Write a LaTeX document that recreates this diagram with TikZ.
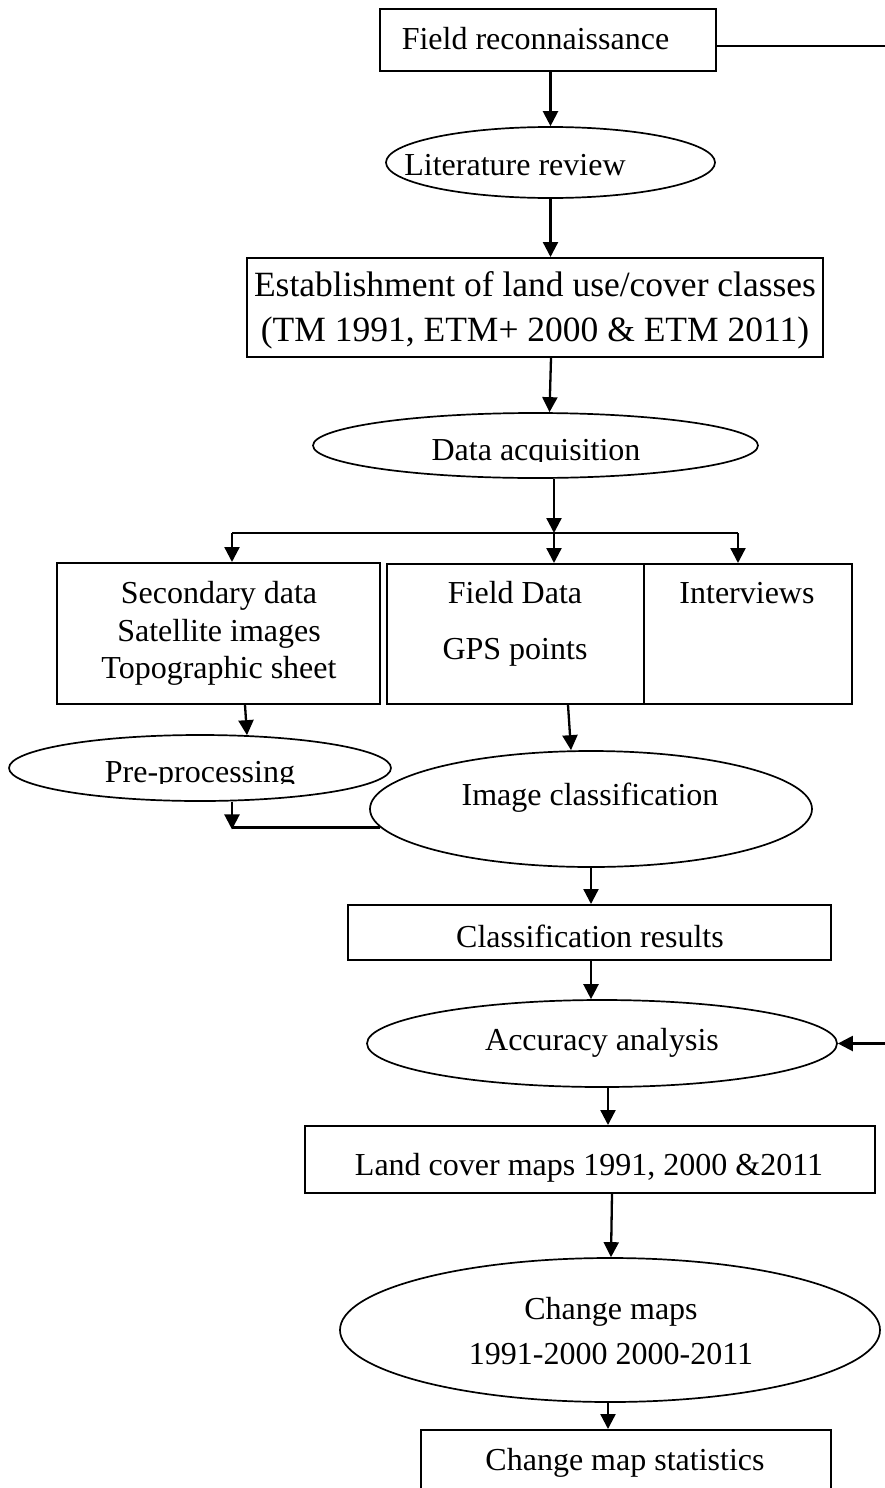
\documentclass[tikz,border=0pt]{standalone}
\usepackage{fontspec}
\setmainfont{Liberation Serif}
\usetikzlibrary{shapes.geometric,arrows.meta,calc}
\begin{document}
\begin{tikzpicture}[x=1pt,y=-1pt,
  box/.style={draw,line width=2pt,rectangle,inner sep=0pt},
  oval/.style={draw,line width=1.7pt,ellipse,inner sep=0pt},
  lbl/.style={inner sep=0pt,anchor=base,font=\fontsize{32}{38}\selectfont},
  biglbl/.style={lbl,font=\fontsize{35.5}{42}\selectfont},
  conn/.style={line width=2.3pt},
  arr/.style={conn,-{Triangle[length=15pt,width=15pt]}}]
\useasboundingbox (0,0) rectangle (885,1488);
\fill[white] (0,0) rectangle (885,1488);

% shapes
\node[box,minimum width=336pt,minimum height=62pt] (fr) at (548,40) {};
\node[oval,minimum width=329pt,minimum height=71pt] (lit) at (550.5,162.5) {};
\node[box,minimum width=576pt,minimum height=99pt] (est) at (535,307.5) {};
\node[oval,minimum width=445pt,minimum height=65pt] (da) at (535.5,445.5) {};
\node[box,minimum width=323pt,minimum height=141pt] (sec) at (218.5,633.5) {};
\node[box,minimum width=257pt,minimum height=140pt] (fd) at (515.5,634) {};
\node[box,minimum width=208pt,minimum height=140pt] (iv) at (748,634) {};
\node[oval,minimum width=382pt,minimum height=66pt] (pre) at (200,768) {};
\node[oval,minimum width=442pt,minimum height=116pt] (ic) at (591,809) {};
\node[box,minimum width=483pt,minimum height=55pt] (cr) at (589.5,932.5) {};
\node[oval,minimum width=470pt,minimum height=87pt] (aa) at (602,1043.5) {};
\node[box,minimum width=570pt,minimum height=67pt] (lc) at (590,1159.5) {};
\node[oval,minimum width=540pt,minimum height=144pt] (cm) at (610,1330) {};
\node[box,minimum width=410pt,minimum height=100pt] (cs) at (626,1480) {};

% texts
\node[lbl] (frt) at (535.5,50) {Field reconnaissance};
\node[lbl] (litt) at (515,175) {Literature review};
\node[biglbl] (estt1) at (535,296) {Establishment of land use/cover classes};
\node[biglbl] (estt2) at (535,341) {(TM 1991, ETM+ 2000 \& ETM 2011)};
\begin{scope}
  \clip (300,420) rectangle (780,461.5);
  \node[lbl] (dat) at (536,460) {Data acquisition};
\end{scope}
\node[lbl] (sect1) at (219,603) {Secondary data};
\node[lbl] (sect2) at (219,641) {Satellite images};
\node[lbl] (sect3) at (219,678) {Topographic sheet};
\node[lbl] (fdt1) at (515,603) {Field Data};
\node[lbl] (fdt2) at (515,659) {GPS points};
\node[lbl] (ivt) at (747,603) {Interviews};
\begin{scope}
  \clip (20,745) rectangle (380,783.5);
  \node[lbl] (pret) at (200,782) {Pre-processing};
\end{scope}
\node[lbl] (ict) at (590,805) {Image classification};
\node[lbl] (crt) at (590,947) {Classification results};
\node[lbl] (aat) at (602,1050) {Accuracy analysis};
\node[lbl] (lct) at (589,1175) {Land cover maps 1991, 2000 \&2011};
\node[lbl] (cmt1) at (611,1319) {Change maps};
\node[lbl] (cmt2) at (611,1364) {1991-2000 2000-2011};
\node[lbl] (cst) at (625,1470) {Change map statistics};

% connectors
\draw[arr] (lit.north |- fr.south) -- (lit.north);
\draw[arr] (lit.south) -- (lit.south |- est.north);
\draw[arr] ($(est.south)+(16,0)$) -- ($(da.north)+(14,0)$);
\coordinate (bl) at (232,533);
\coordinate (bm) at (554,533);
\coordinate (brr) at (738,533);
\draw[arr] ($(da.south)+(18.5,0)$) -- (bm);
\draw[conn] (bl) -- (brr);
\draw[arr] (bl) -- (bl |- sec.north);
\draw[arr] (bm) -- (bm |- fd.north);
\draw[arr] (brr) -- (brr |- iv.north);
\draw[arr] ($(sec.south)+(26.5,0)$) -- ($(pre.north)+(47,1)$);
\draw[arr] ($(fd.south)+(52.5,0)$) -- ($(ic.north)+(-20,0)$);
\coordinate (icw) at (ic.185);
\coordinate (pb) at ($(pre.south)+(32,0)$);
\coordinate (jn) at (pb |- icw);
\draw[conn] (icw) -- (jn);
\draw[arr] (pb) -- ($(jn)+(0,2)$);
\draw[arr] (ic.south) -- (ic.south |- cr.north);
\draw[arr] (ic.south |- cr.south) -- (ic.south |- aa.north);
\coordinate (ab) at ($(aa.south)+(6,0)$);
\draw[arr] (ab) -- (ab |- lc.north);
\draw[arr] ($(lc.south)+(22,0)$) -- ($(cm.north)+(1,0)$);
\coordinate (cb) at ($(cm.south)+(-2,0)$);
\draw[arr] (cb) -- (cb |- cs.north);
\coordinate (rt) at (895,45.7);
\draw[arr] ($(fr.east)+(0,5.7)$) -- (rt) |- (aa.east);
\end{tikzpicture}
\end{document}
